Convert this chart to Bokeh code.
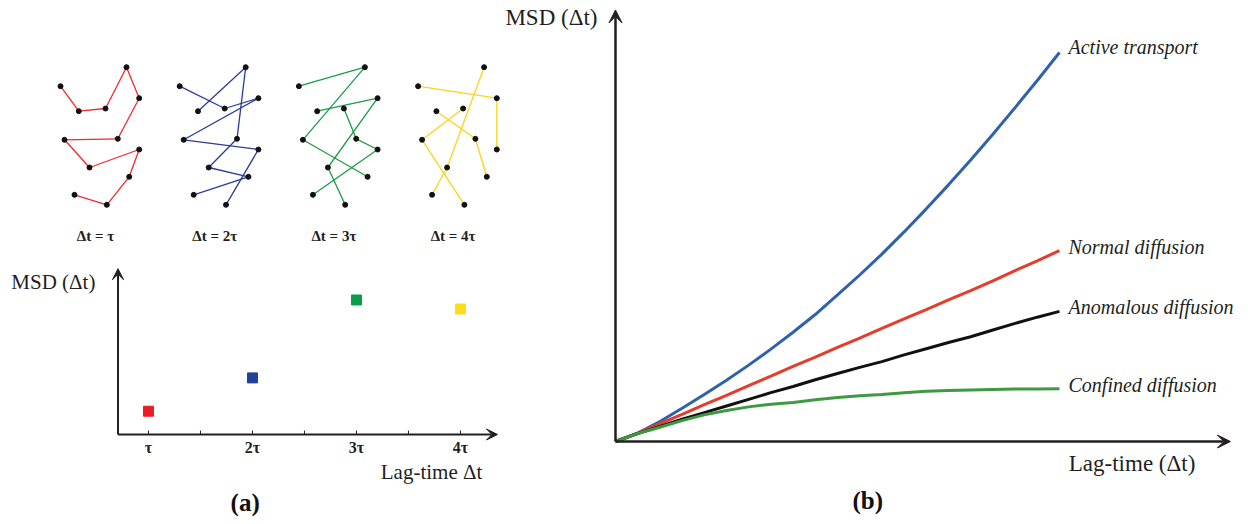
from bokeh.plotting import figure
from bokeh.layouts import row, column
from bokeh.models import Arrow, VeeHead, Range1d
from bokeh.embed import file_html
from bokeh.resources import INLINE

# ---------------- data ----------------
# one particle trajectory (arbitrary length units), used for all four lag panels
traj_x = [1.0, 2.83, 5.5, 7.6, 8.87, 6.73, 1.4, 3.9, 8.87, 7.87, 5.63, 2.4]
traj_y = [13.43, 10.93, 11.2, 15.33, 12.23, 8.17, 8.07, 5.3, 7.1, 4.37, 1.57, 2.57]
lags = [1, 2, 3, 4]
lag_labels = ["Δt = τ", "Δt = 2τ", "Δt = 3τ", "Δt = 4τ"]
lag_line_colors = ["#ee2a2e", "#2b3d96", "#1e9a48", "#f7d51d"]

# MSD at each lag (panel a, bottom)
msd_lag = [1, 2, 3, 4]
msd_val = [0.70, 1.70, 4.04, 3.77]
msd_colors = ["#ed1c24", "#21409a", "#0a9e4b", "#fddc1a"]
tick_pos = [1, 1.5, 2, 2.5, 3, 3.5, 4]
tick_labels = {1: "τ", 2: "2τ", 3: "3τ", 4: "4τ"}

# MSD curves (panel b)
lag_t = [0, 0.5, 1, 1.5, 2, 2.5, 3, 3.5, 4, 4.5, 5, 5.5, 6, 6.5, 7, 7.5, 8, 8.5, 9, 9.5, 10]
active = [0, 0.19, 0.45, 0.75, 1.06, 1.38, 1.72, 2.08, 2.46, 2.86, 3.30, 3.75, 4.22,
          4.72, 5.24, 5.78, 6.34, 6.92, 7.52, 8.13, 8.76]
normal = [0, 0.19, 0.40, 0.61, 0.83, 1.04, 1.26, 1.47, 1.69, 1.90, 2.12, 2.33, 2.55,
          2.76, 2.97, 3.19, 3.40, 3.62, 3.85, 4.07, 4.30]
anomalous = [0, 0.18, 0.34, 0.50, 0.65, 0.80, 0.95, 1.10, 1.24, 1.39, 1.53, 1.67, 1.80,
             1.95, 2.09, 2.23, 2.36, 2.51, 2.66, 2.80, 2.93]
confined = [0, 0.18, 0.32, 0.47, 0.60, 0.70, 0.78, 0.84, 0.88, 0.94, 0.99, 1.03, 1.06,
            1.10, 1.13, 1.15, 1.16, 1.17, 1.18, 1.185, 1.19]
curve_names = ["Active transport", "Normal diffusion", "Anomalous diffusion", "Confined diffusion"]
curve_colors = ["#2f62a8", "#e53d2c", "#111111", "#3e9a40"]

SERIF = "Liberation Serif"
AXC = "#231f20"


def blank(w, h, xr, yr):
    p = figure(width=w, height=h, x_range=Range1d(*xr), y_range=Range1d(*yr),
               output_backend="svg", toolbar_location=None,
               x_axis_location=None, y_axis_location=None,
               min_border=0, outline_line_color=None)
    p.xgrid.visible = False
    p.ygrid.visible = False
    p.background_fill_color = "white"
    p.border_fill_color = "white"
    return p


def arrow(p, x0, y0, x1, y1, lw, size):
    p.add_layout(Arrow(end=VeeHead(size=size, fill_color=AXC, line_color=AXC, line_width=1),
                       x_start=x0, y_start=y0, x_end=x1, y_end=y1,
                       line_color=AXC, line_width=lw))


# ---------------- panel (a) top: trajectories ----------------
PANEL_DX = 11.92
pt = blank(500, 250, (-5.0, 45.0), (-3.0, 22.0))
for k, lag in enumerate(lags):
    xs, ys = [], []
    for i in range(len(traj_x) - lag):
        xs.append([traj_x[i] + k * PANEL_DX, traj_x[i + lag] + k * PANEL_DX])
        ys.append([traj_y[i], traj_y[i + lag]])
    pt.multi_line(xs, ys, line_color=lag_line_colors[k], line_width=1.3)
    pt.scatter([x + k * PANEL_DX for x in traj_x], traj_y, size=5,
               fill_color="#111111", line_color="#111111")
pt.text(x=[4.5 + k * PANEL_DX for k in range(len(lags))], y=[-1.5] * len(lags),
        text=lag_labels, text_font={"value": SERIF}, text_font_size="15px",
        text_font_style="bold", text_align="center", text_baseline="middle",
        text_color="#231f20")

# ---------------- panel (a) bottom: MSD points ----------------
pm = blank(500, 266, (-0.423, 4.385), (-2.462, 5.526))
AX0 = 0.707
arrow(pm, AX0, 0, AX0, 4.98, 2, 11)
arrow(pm, AX0, 0, 4.356, 0, 2, 11)
pm.segment(x0=tick_pos, y0=[0] * len(tick_pos), x1=tick_pos, y1=[0.12] * len(tick_pos),
           line_color=AXC, line_width=1)
pm.text(x=list(tick_labels.keys()), y=[-0.39] * 4, text=list(tick_labels.values()),
        text_font={"value": SERIF}, text_font_size="16px", text_font_style="bold",
        text_align="center", text_baseline="middle", text_color=AXC)
pm.scatter(msd_lag, msd_val, marker="square", size=10, fill_color=msd_colors,
           line_color=msd_colors)
pm.text(x=[0.49], y=[4.59], text=["MSD (Δt)"], text_font={"value": SERIF},
        text_font_size="21px", text_align="right", text_baseline="middle", text_color=AXC)
pm.text(x=[4.21], y=[-1.14], text=["Lag-time Δt"], text_font={"value": SERIF},
        text_font_size="21px", text_align="right", text_baseline="middle", text_color=AXC)
pm.text(x=[1.93], y=[-2.05], text=["(a)"], text_font={"value": SERIF},
        text_font_size="25px", text_font_style="bold", text_align="center",
        text_baseline="middle", text_color="#111111")

# ---------------- panel (b): MSD curves ----------------
pb = blank(740, 516, (-2.590, 14.077), (-1.689, 9.932))
arrow(pb, 0, 0, 0, 9.72, 2.5, 13)
arrow(pb, 0, 0, 13.85, 0, 2.5, 13)
series = [active, normal, anomalous, confined]
for vals, c in zip(series, curve_colors):
    pb.line(lag_t, vals, line_color=c, line_width=3)
pb.text(x=[lag_t[-1]] * 4, y=[v[-1] for v in series], text=curve_names,
        x_offset=9, y_offset=[-6, -4, -4, -4], text_font={"value": SERIF},
        text_font_size="20px", text_font_style="italic", text_align="left",
        text_baseline="middle", text_color="#231f20")
pb.text(x=[-0.405], y=[9.55], text=["MSD (Δt)"], text_font={"value": SERIF},
        text_font_size="23px", text_align="right", text_baseline="middle", text_color=AXC)
pb.text(x=[13.06], y=[-0.5], text=["Lag-time (Δt)"], text_font={"value": SERIF},
        text_font_size="23px", text_align="right", text_baseline="middle", text_color=AXC)
pb.text(x=[5.68], y=[-1.33], text=["(b)"], text_font={"value": SERIF},
        text_font_size="25px", text_font_style="bold", text_align="center",
        text_baseline="middle", text_color="#111111")

layout = row(column(pt, pm), pb)
open("out.html", "w").write(file_html(layout, INLINE))
